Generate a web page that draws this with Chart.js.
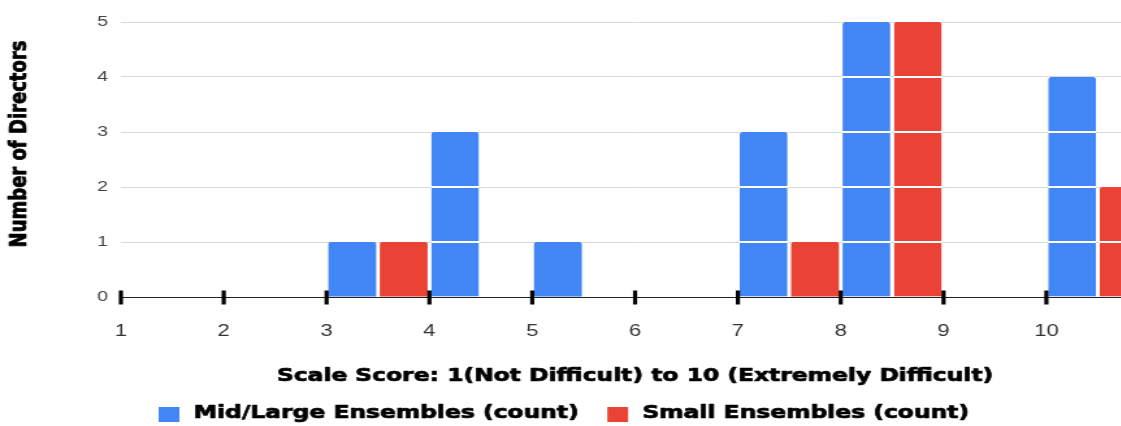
<!DOCTYPE html>
<html lang="en">
<head>
<meta charset="utf-8">
<title>Scale Score</title>
<script src="https://cdn.jsdelivr.net/npm/chart.js@4.4.1/dist/chart.umd.min.js"></script>
<style>
  html, body { margin: 0; padding: 0; background: #fff; overflow: hidden; }
  #marco { width: 1121px; height: 426px; overflow: hidden; }
  #graficoDificultad { transform: scaleX(1.3); transform-origin: 0 0; }
</style>
</head>
<body>
<div id="marco"><canvas id="graficoDificultad" width="884" height="426"></canvas></div>
<script>
const scores = [1, 2, 3, 4, 5, 6, 7, 8, 9, 10];
const midLargeCounts = [0, 0, 1, 3, 1, 0, 3, 5, 0, 4];
const smallCounts = [0, 0, 1, 0, 0, 0, 1, 5, 0, 2];
const countTicks = [0, 1, 2, 3, 4, 5];
const seriesLabels = ["Mid/Large Ensembles (count)", "Small Ensembles (count)"];
const seriesColors = ["#4285f4", "#ea4335"];
const xTitle = "Scale Score: 1(Not Difficult) to 10 (Extremely Difficult)";
const yTitle = "Number of Directors";

const titleFont = "bold 18px 'DejaVu Sans', sans-serif";
const tickFont = "'Liberation Sans', Arial, sans-serif";

// each count is drawn as a pile of unit blocks, like the sheets histogram
function buildBlocks(counts, shift) {
    const blocks = [];
    scores.forEach((score, i) => {
        for (let k = 0; k < counts[i]; k++) {
            blocks.push({ x: score + shift, y: [k, k + 1], top: k === counts[i] - 1 });
        }
    });
    return blocks;
}

// heavy text: fill plus a thin stroke of the same colour
function heavyText(ctx, text, x, y) {
    ctx.fillText(text, x, y);
    ctx.strokeText(text, x, y);
}

// baseline, thick tick marks, axis titles and legend
const decorado = {
    id: "decorado",
    afterDatasetsDraw(chart) {
        const { ctx, chartArea, scales } = chart;
        const y0 = Math.round(scales.y.getPixelForValue(0)) + 0.5;
        ctx.save();
        ctx.strokeStyle = "#222";
        ctx.lineWidth = 1;
        ctx.beginPath();
        ctx.moveTo(chartArea.left, y0);
        ctx.lineTo(chartArea.right, y0);
        ctx.stroke();
        ctx.fillStyle = "#000";
        scores.forEach(s => {
            const x = scales.x.getPixelForValue(s);
            ctx.fillRect(x - 1.6, y0 - 7, 3.2, 14);
        });
        ctx.restore();
    },
    afterDraw(chart) {
        const { ctx, chartArea } = chart;
        ctx.save();
        ctx.fillStyle = "#000";
        ctx.strokeStyle = "#000";
        ctx.lineWidth = 0.7;
        ctx.lineJoin = "round";
        ctx.font = titleFont;

        ctx.textAlign = "center";
        ctx.textBaseline = "alphabetic";
        heavyText(ctx, xTitle, (chartArea.left + chartArea.right) / 2, 381);

        ctx.save();
        ctx.translate(20, 144);
        ctx.rotate(-Math.PI / 2);
        heavyText(ctx, yTitle, 0, 0);
        ctx.restore();

        // legend
        ctx.textAlign = "left";
        let x = 122;
        chart.data.datasets.forEach(ds => {
            ctx.fillStyle = ds.backgroundColor;
            ctx.fillRect(x, 407, 16, 15);
            x += 16 + 11;
            ctx.fillStyle = "#000";
            heavyText(ctx, ds.label, x, 418);
            x += ctx.measureText(ds.label).width + 22;
        });
        ctx.restore();
    }
};

function dibujarGrafico() {
    const canvas = document.getElementById("graficoDificultad");
    new Chart(canvas, {
        type: "bar",
        data: {
            datasets: [
                { label: seriesLabels[0], data: buildBlocks(midLargeCounts, 0.25), backgroundColor: seriesColors[0] },
                { label: seriesLabels[1], data: buildBlocks(smallCounts, 0.75), backgroundColor: seriesColors[1] }
            ]
        },
        options: {
            responsive: false,
            animation: false,
            layout: { padding: { top: 22, left: 0, right: 0, bottom: 0 } },
            plugins: { legend: { display: false }, tooltip: { enabled: false } },
            datasets: {
                bar: {
                    grouped: false,
                    barPercentage: 0.93,
                    categoryPercentage: 1,
                    borderSkipped: false,
                    borderColor: "#fff",
                    borderWidth: c => c.raw
                        ? { top: c.raw.top ? 0 : 1, bottom: c.raw.y[0] === 0 ? 0 : 1, left: 0, right: 0 }
                        : 0,
                    borderRadius: c => (c.raw && c.raw.top)
                        ? { topLeft: 2, topRight: 2, bottomLeft: 0, bottomRight: 0 }
                        : 0
                }
            },
            scales: {
                x: {
                    type: "linear",
                    min: 1,
                    max: 11,
                    offset: false,
                    grid: { display: false },
                    border: { display: false },
                    afterBuildTicks: scale => { scale.ticks = scores.map(v => ({ value: v })); },
                    ticks: { padding: 16, color: "#333", font: { family: tickFont, size: 17 } },
                    afterFit: scale => { scale.height = 129; }
                },
                y: {
                    min: 0,
                    max: 5,
                    grid: { color: "#d9d9d9", drawTicks: false },
                    border: { display: false },
                    afterBuildTicks: scale => { scale.ticks = countTicks.map(v => ({ value: v })); },
                    ticks: { padding: 10, color: "#444", font: { family: tickFont, size: 15 } },
                    afterFit: scale => { scale.width = 93; }
                }
            }
        },
        plugins: [decorado]
    });
}

document.addEventListener("DOMContentLoaded", dibujarGrafico);
</script>
</body>
</html>
